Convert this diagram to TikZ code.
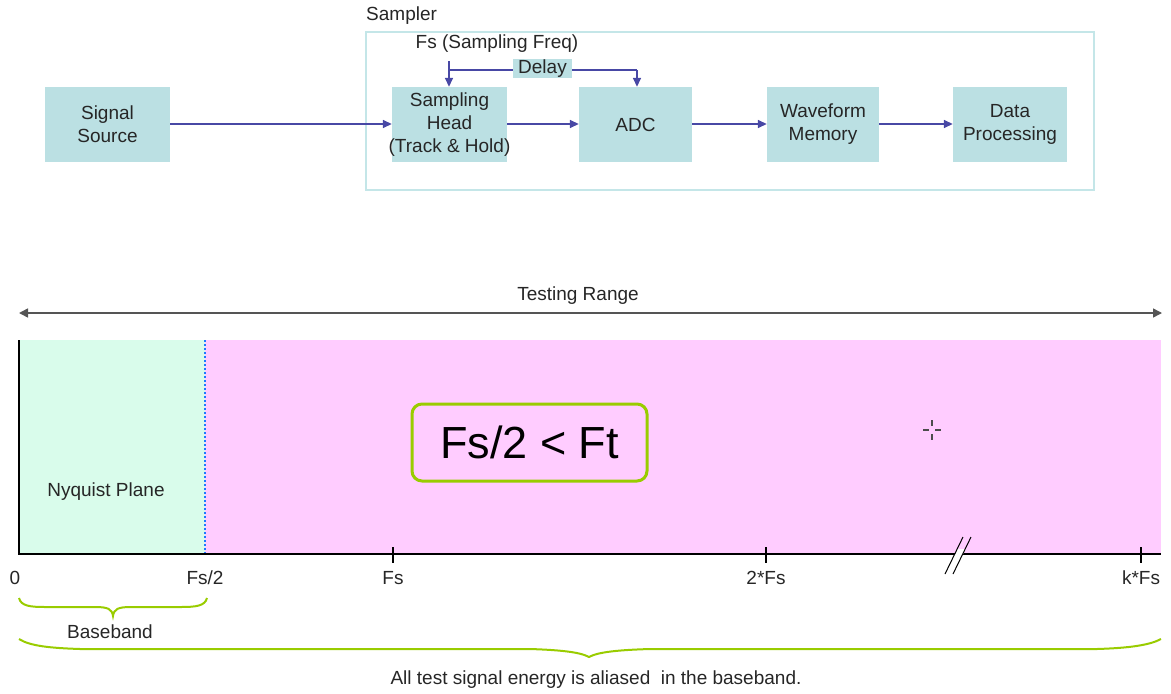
\documentclass[tikz,border=0pt]{standalone}
\usepackage{fontspec}
\setmainfont{Liberation Sans}
\usetikzlibrary{arrows.meta}
\definecolor{boxc}{RGB}{187,224,227}
\definecolor{arrowc}{RGB}{72,72,165}
\definecolor{samplerc}{RGB}{196,230,232}
\definecolor{greenreg}{RGB}{217,252,235}
\definecolor{pinkreg}{RGB}{255,204,255}
\definecolor{lime}{RGB}{153,204,0}
\definecolor{dotblue}{RGB}{30,120,255}
\definecolor{rangec}{RGB}{85,85,85}
\tikzset{
  x=1pt, y=-1pt,
  txt/.style={font=\fontsize{19}{23}\selectfont, inner sep=0pt, align=center, text=black!85},
  blk/.style={txt, fill=boxc, minimum height=75pt},
  flow/.style={draw=arrowc, line width=1.5pt, -{Triangle[length=9pt,width=8pt]}},
  flowline/.style={draw=arrowc, line width=1.5pt},
  brace/.style={draw=lime, line width=2pt},
  tick/.style={draw=black, line width=1.2pt},
}
\begin{document}
\begin{tikzpicture}
\useasboundingbox (0,0) rectangle (1171,694);
% ---------- top: block diagram ----------
\node[draw=samplerc, line width=1.2pt, minimum width=728pt, minimum height=158pt, inner sep=0pt] (sampler) at (730,111) {};
\node[txt, anchor=west] (samplerlbl) at (366,16) {Sampler};
\node[blk, minimum width=125pt] (src) at (107.5,124.5) {Signal\\Source};
\node[blk, minimum width=115pt] (sh) at (449.5,124.5) {Sampling\\Head\\\makebox[0pt][c]{(Track \& Hold)}};
\node[blk, minimum width=113pt] (adc) at (635.5,124.5) {ADC};
\node[blk, minimum width=112pt] (wf) at (823,124.5) {Waveform\\Memory};
\node[blk, minimum width=114pt] (dp) at (1010,124.5) {Data\\Processing};
\draw[flow] (src.east |- 0,124) -- (sh.west |- 0,124);
\draw[flow] (sh.east |- 0,124) -- (adc.west |- 0,124);
\draw[flow] (adc.east |- 0,124) -- (wf.west |- 0,124);
\draw[flow] (wf.east |- 0,124) -- (dp.west |- 0,124);
\node[txt] (fs) at (497,44) {Fs (Sampling Freq)};
\coordinate (fsend) at (449,61);
\coordinate (dl) at (449,70);
\coordinate (dr) at (637,70);
\draw[flow] (fsend) -- (fsend |- sh.north);
\draw[flowline] (dl) -- (dr);
\draw[flow] (dr) -- (dr |- adc.north);
\node[txt, fill=boxc, minimum width=59pt, minimum height=19pt] (delay) at (542.5,68.5) {Delay};
% ---------- bottom: spectrum ----------
\node[txt] (range) at (578,296) {Testing Range};
\coordinate (rl) at (19,313);
\coordinate (rr) at (1162,313);
\draw[draw=rangec, line width=1.5pt, {Triangle[length=9pt,width=9pt]}-{Triangle[length=9pt,width=9pt]}] (rl) -- (rr);
\fill[greenreg] (19,340) rectangle (205,554);
\fill[pinkreg] (205,340) rectangle (1161,554);
\draw[dotblue, line width=2.2pt, dash pattern=on 2pt off 2pt] (205,340) -- (205,554);
\draw[black, line width=2pt] (19,340) -- (19,554) -- (1161,554);
\node[txt] (nyq) at (106,492) {Nyquist Plane};
\node[draw=lime, line width=3pt, rounded corners=10pt, minimum width=235pt, minimum height=77pt, inner sep=0pt, font=\fontsize{45}{50}\selectfont] (cond) at (529.5,442.5) {Fs/2 < Ft};
% crosshair
\draw[black!70, line width=1.2pt] (932,420) -- (932,426) (932,434) -- (932,440) (923,430) -- (929,430) (935,430) -- (941,430);
% ticks
\draw[tick] (393,547) -- (393,563);
\draw[tick] (766,547) -- (766,563);
\draw[tick] (1141,547) -- (1141,563);
% axis break
\fill[white] (953.8,557) -- (961.8,557) -- (965.6,549) -- (957.6,549) -- cycle;
\draw[black, line width=1pt] (945,574) -- (963,537) (953,574) -- (971,537);
% labels
\node[txt] (l0) at (15,578) {0};
\node[txt] (lfs2) at (205,578) {Fs/2};
\node[txt] (lfs) at (393,578) {Fs};
\node[txt] (l2fs) at (766,578) {2*Fs};
\node[txt] (lkfs) at (1141,578) {k*Fs};
% braces
\draw[brace] (19,598) .. controls (21,606) and (30,607) .. (45,607) -- (95,607) .. controls (108,607) and (112,609) .. (113,616)
  .. controls (114,609) and (118,607) .. (131,607) -- (181,607) .. controls (196,607) and (205,606) .. (207,598);
\node[txt] (bb) at (110,632) {Baseband};
\draw[brace] (19,639) .. controls (30,646) and (50,648) .. (80,649) -- (530,649) .. controls (560,650) and (580,652) .. (589,657)
  .. controls (598,652) and (618,650) .. (650,649) -- (1097,649) .. controls (1130,648) and (1150,645) .. (1161,639);
\node[txt] (note) at (596,680) {All test signal energy is aliased\ \ in the baseband.};
\end{tikzpicture}
\end{document}
